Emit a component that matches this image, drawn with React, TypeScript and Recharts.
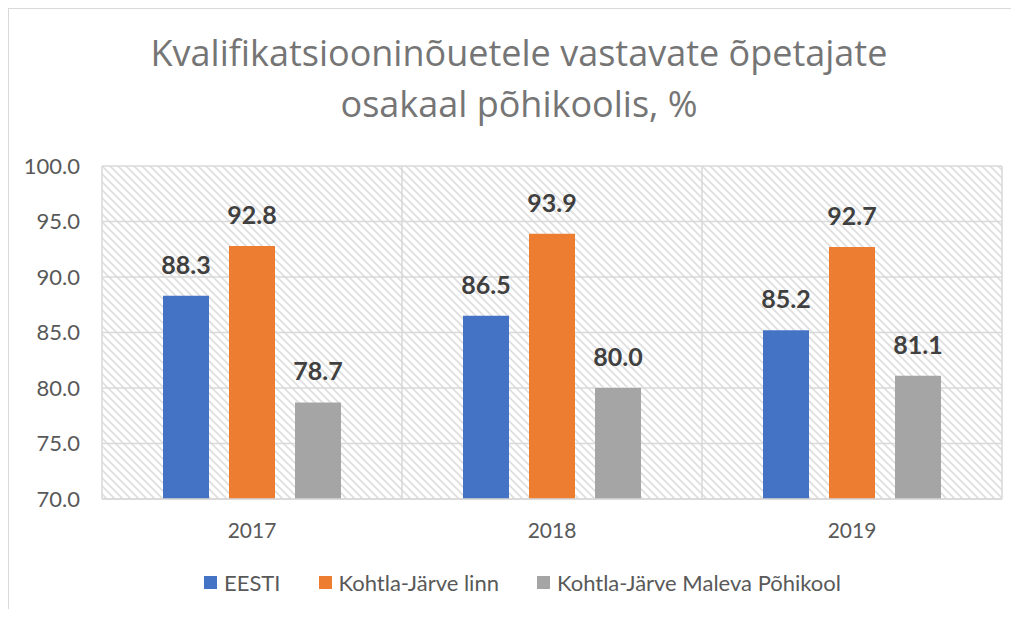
import React from 'react';
import { BarChart, Bar, XAxis, YAxis, CartesianGrid, Legend, LabelList } from 'recharts';

const years = ['2017', '2018', '2019'];
const eesti = [88.3, 86.5, 85.2];
const kohtlaJarve = [92.8, 93.9, 92.7];
const maleva = [78.7, 80.0, 81.1];
const yTicks = [70, 75, 80, 85, 90, 95, 100];

const seriesNames = ['EESTI', 'Kohtla-Järve linn', 'Kohtla-Järve Maleva Põhikool'];
const seriesColors = ['#4472C4', '#ED7D31', '#A5A5A5'];

const data = years.map((year, i) => ({
  year,
  eesti: eesti[i],
  kohtla: kohtlaJarve[i],
  maleva: maleva[i],
}));

const FONT = 'Lato, "Open Sans", sans-serif';
const TITLE_FONT = '"Open Sans", Lato, sans-serif';

// legend drawn in series order (recharts sorts its payload by name)
const LegendContent = () => (
  <div style={{ height: 30, display: 'flex', justifyContent: 'center', alignItems: 'center', paddingLeft: 34, fontFamily: FONT, fontSize: 22, color: '#595959' }}>
    {seriesNames.map((name, i) => (
      <div key={name} style={{ display: 'flex', alignItems: 'center', marginLeft: i === 0 ? 0 : 38 }}>
        <span style={{ width: 13, height: 13, background: seriesColors[i], display: 'inline-block', marginRight: 7 }} />
        <span>{name}</span>
      </div>
    ))}
  </div>
);

const labelStyle = { fontFamily: FONT, fontSize: 25, fontWeight: 700, fill: '#404040' };

export default function App() {
  return (
    <div style={{ position: 'relative', width: 1002, height: 600, borderLeft: '1px solid #d9d9d9', borderTop: '1px solid #d9d9d9', background: '#fff' }}>
      <svg width={1002} height={140} style={{ position: 'absolute', left: 0, top: 0 }}>
        <text x={510} y={57} textAnchor="middle" fontFamily={TITLE_FONT} fontSize={36} fill="#757575">
          Kvalifikatsiooninõuetele vastavate õpetajate
        </text>
        <text x={510} y={108} textAnchor="middle" fontFamily={TITLE_FONT} fontSize={36} fill="#757575">
          osakaal põhikoolis, %
        </text>
      </svg>
      <BarChart
        width={1002}
        height={600}
        data={data}
        margin={{ top: 157, right: 9, left: 0, bottom: 40 }}
        barSize={46}
        barGap={20}
        style={{ position: 'absolute', left: 0, top: 0 }}
      >
        <defs>
          <pattern id="hatch" patternUnits="userSpaceOnUse" width={8} height={8}>
            <rect width={8} height={8} fill="#ffffff" />
            <path d="M0,0 L8,8 M-2,6 L2,10 M6,-2 L10,2" stroke="#dedede" strokeWidth={1.6} />
          </pattern>
        </defs>
        <CartesianGrid
          fill="url(#hatch)"
          fillOpacity={1}
          stroke="#d9d9d9"
          strokeWidth={1.5}
          verticalCoordinatesGenerator={({ offset }: any) =>
            [0, 1, 2, 3].map((i) => offset.left + (i * offset.width) / years.length)
          }
        />
        <XAxis
          dataKey="year"
          height={40}
          tickLine={false}
          tickSize={0}
          tickMargin={24}
          axisLine={{ stroke: '#d9d9d9', strokeWidth: 1.5 }}
          tick={{ fontFamily: FONT, fontSize: 21, fill: '#595959' }}
        />
        <YAxis
          domain={[70, 100]}
          ticks={yTicks}
          width={93}
          tickLine={false}
          tickSize={0}
          tickMargin={22}
          axisLine={false}
          tickFormatter={(v: number) => v.toFixed(1)}
          tick={{ fontFamily: FONT, fontSize: 22, fill: '#595959' }}
        />
        <Legend content={<LegendContent />} verticalAlign="bottom" wrapperStyle={{ bottom: 12 }} />
        <Bar dataKey="eesti" name={seriesNames[0]} fill={seriesColors[0]} isAnimationActive={false}>
          <LabelList dataKey="eesti" position="top" offset={22} formatter={(v: number) => v.toFixed(1)} style={labelStyle} />
        </Bar>
        <Bar dataKey="kohtla" name={seriesNames[1]} fill={seriesColors[1]} isAnimationActive={false}>
          <LabelList dataKey="kohtla" position="top" offset={22} formatter={(v: number) => v.toFixed(1)} style={labelStyle} />
        </Bar>
        <Bar dataKey="maleva" name={seriesNames[2]} fill={seriesColors[2]} isAnimationActive={false}>
          <LabelList dataKey="maleva" position="top" offset={22} formatter={(v: number) => v.toFixed(1)} style={labelStyle} />
        </Bar>
      </BarChart>
    </div>
  );
}
